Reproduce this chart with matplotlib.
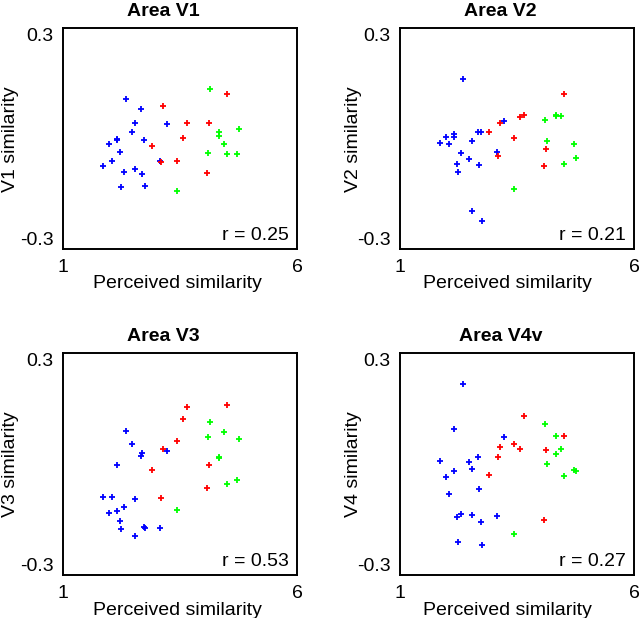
import numpy as np
import matplotlib.pyplot as plt

plt.rcParams['font.family'] = ['Liberation Sans', 'DejaVu Sans']

# PERCEIVED SIMILARITY (SAME FOR EVERY AREA)
perceived_blue = [1.857, 1.986, 2.036, 2.157, 2.157, 2.221, 2.229, 2.300, 2.343,
                  2.479, 2.536, 2.543, 2.671, 2.686, 2.729, 2.750, 3.079, 3.229]
perceived_red = [2.893, 3.093, 3.129, 3.436, 3.571, 3.657, 4.071, 4.114, 4.500]
perceived_green = [3.436, 4.100, 4.143, 4.321, 4.336, 4.429, 4.493, 4.714, 4.764]

# AREA SIMILARITY
v1_blue = [-0.073, -0.015, -0.061, 0.000, -0.004, -0.037, -0.130, -0.091, 0.109,
           0.018, -0.081, 0.044, 0.080, -0.097, -0.004, -0.128, -0.060, 0.040]
v1_red = [-0.021, -0.064, 0.089, -0.060, 0.002, 0.043, -0.094, 0.042, 0.122]
v1_green = [-0.142, -0.040, 0.134, 0.008, 0.017, -0.013, -0.041, -0.041, 0.026]

v2_blue = [-0.011, 0.005, -0.013, 0.013, 0.005, -0.069, -0.090, -0.040, 0.162,
           -0.055, -0.197, -0.007, 0.018, -0.071, 0.018, -0.223, -0.037, 0.049]
v2_red = [0.018, -0.047, 0.044, 0.003, 0.060, 0.065, -0.074, -0.029, 0.122]
v2_green = [-0.136, 0.051, -0.006, 0.064, 0.063, 0.061, -0.069, -0.015, -0.053]

v3_blue = [-0.087, -0.131, -0.088, -0.002, -0.125, -0.152, -0.175, -0.114, 0.090,
           0.054, -0.194, -0.093, 0.022, 0.030, -0.169, -0.171, -0.173, 0.036]
v3_red = [-0.015, -0.090, 0.042, 0.064, 0.122, 0.154, -0.063, -0.002, 0.162]
v3_green = [-0.122, 0.075, 0.115, 0.018, 0.021, 0.087, -0.054, -0.041, 0.069]

v4_blue = [0.008, -0.034, -0.080, 0.095, -0.019, -0.143, -0.209, -0.134, 0.218,
           0.007, -0.137, -0.013, 0.021, -0.067, -0.155, -0.217, -0.139, 0.073]
v4_red = [-0.028, 0.020, 0.047, 0.055, 0.043, 0.130, -0.150, 0.038, 0.076]
v4_green = [-0.187, 0.108, 0.000, 0.077, 0.027, 0.041, -0.030, -0.014, -0.017]

titles = ['Area V1', 'Area V2', 'Area V3', 'Area V4v']
ylabels = ['V1 similarity', 'V2 similarity', 'V3 similarity', 'V4 similarity']
r_values = ['0.25', '0.21', '0.53', '0.27']
areas = [(v1_blue, v1_red, v1_green), (v2_blue, v2_red, v2_green),
         (v3_blue, v3_red, v3_green), (v4_blue, v4_red, v4_green)]

# AXES POSITIONS (FIGURE FRACTION)
positions = [[0.099, 0.597, 0.365, 0.357], [0.625, 0.597, 0.366, 0.357],
             [0.099, 0.069, 0.365, 0.359], [0.625, 0.069, 0.366, 0.359]]

fig = plt.figure(figsize=(6.4, 6.18), dpi=100)

for i in range(4):
    ax = fig.add_axes(positions[i])
    blue, red, green = areas[i]
    ax.plot(perceived_blue, blue, '+', color='#0000ff', markersize=5, mew=1.3)
    ax.plot(perceived_red, red, '+', color='#ff0000', markersize=5, mew=1.3)
    ax.plot(perceived_green, green, '+', color='#00ff00', markersize=5, mew=1.3)

    ax.set_xlim(1, 6)
    ax.set_ylim(-0.3, 0.3)
    ax.set_xticks([1, 6])
    ax.set_xticklabels(['1', '6'])
    ax.set_yticks([-0.3, 0.3])
    ax.set_yticklabels(['-0.3', '0.3'])
    ax.tick_params(length=0, labelsize=14, pad=7)
    ylab = ax.get_yticklabels()
    ylab[0].set_va('bottom')
    ylab[1].set_va('top')
    for s in ax.spines.values():
        s.set_linewidth(1.4)

    ax.set_title(titles[i], fontsize=14, fontweight='bold', x=0.43, pad=9)
    ax.set_xlabel('Perceived similarity', fontsize=14)
    ax.set_ylabel(ylabels[i], fontsize=14)
    if i % 2 == 0:
        ax.xaxis.set_label_coords(0.49, -0.118)
        ax.yaxis.set_label_coords(-0.19, 0.5)
    else:
        ax.xaxis.set_label_coords(0.46, -0.118)
        ax.yaxis.set_label_coords(-0.162, 0.5)
    ax.xaxis.label.set_va('top')

    ax.text(0.965, 0.025, 'r = ' + r_values[i], transform=ax.transAxes,
            ha='right', va='bottom', fontsize=14)

plt.savefig('out.png', dpi=100)
